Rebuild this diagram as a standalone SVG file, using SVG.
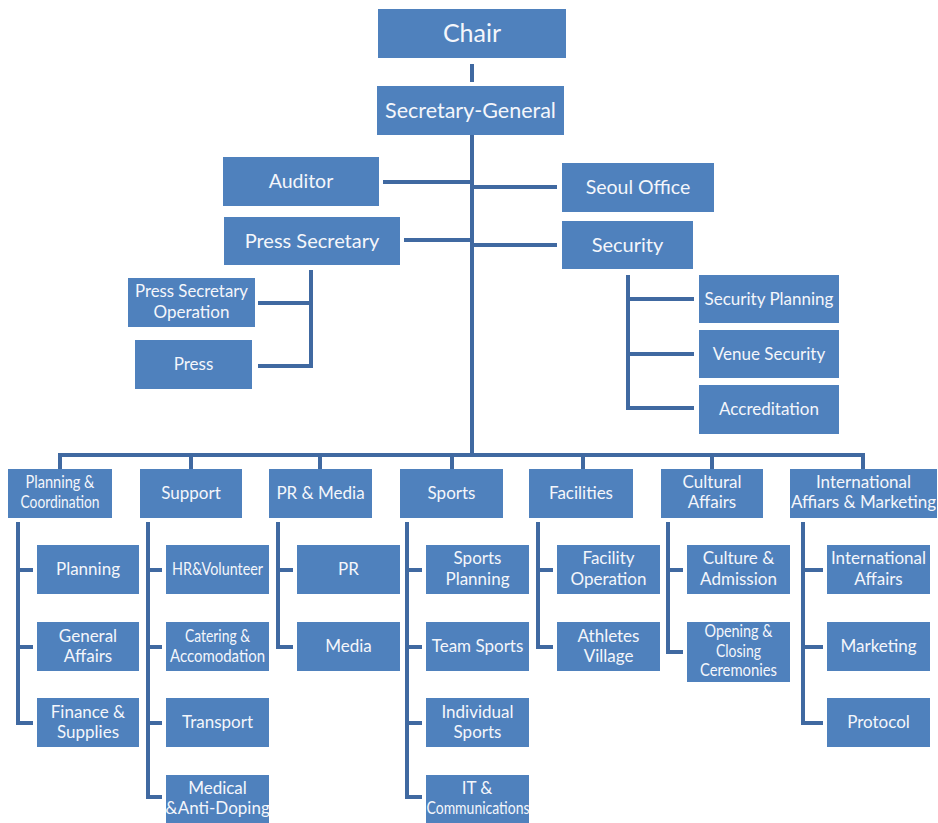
<svg xmlns="http://www.w3.org/2000/svg" width="938" height="823" viewBox="0 0 938 823">
<style>
.bx{fill:#4f81bd}
.t{font-family:Lato,"Open Sans","Liberation Sans",sans-serif;fill:#f4f6fb;text-anchor:middle;font-size:17px}
.ln{stroke:#4069a1;stroke-width:4;fill:none}
</style>
<rect width="938" height="823" fill="#ffffff"/>
<g id="connectors" class="ln">
<path d="M472,64 V82"/>
<path d="M472,135 V455"/>
<path d="M383,182 H472"/>
<path d="M472,187 H557"/>
<path d="M404,240 H472"/>
<path d="M472,245 H557"/>
<path d="M311,270 V366 H258 M258,303 H311"/>
<path d="M628,275 V408 H694 M628,299 H694 M628,354 H694"/>
<path d="M60,469 V455 H863 V469 M191,455 V469 M320,455 V469 M452,455 V469 M583,455 V469 M712,455 V469"/>
<path d="M18,522 V723 H33 M18,570 H33 M18,647 H33"/>
<path d="M148,522 V797 H162 M148,570 H162 M148,647 H162 M148,723 H162"/>
<path d="M278,522 V647 H293 M278,570 H293"/>
<path d="M407,522 V797 H422 M407,570 H422 M407,647 H422 M407,723 H422"/>
<path d="M538,522 V647 H553 M538,570 H553"/>
<path d="M668,522 V652 H683 M668,570 H683"/>
<path d="M803,522 V723 H823 M803,570 H823 M803,647 H823"/>
</g>
<g id="chair"><rect class="bx" x="378" y="9" width="188" height="49"/><text class="t" x="472" y="42" style="font-size:25px">Chair</text></g>
<g id="secretary-general"><rect class="bx" x="377" y="86" width="187" height="49"/><text class="t" x="470.5" y="118" style="font-size:21.5px">Secretary-General</text></g>
<g id="auditor"><rect class="bx" x="223" y="157" width="156" height="49"/><text class="t" x="301" y="188" style="font-size:19.5px">Auditor</text></g>
<g id="seoul-office"><rect class="bx" x="562" y="163" width="152" height="49"/><text class="t" x="638" y="194" style="font-size:19.5px">Seoul Office</text></g>
<g id="press-secretary"><rect class="bx" x="224" y="217" width="176" height="48"/><text class="t" x="312" y="248" style="font-size:20px">Press Secretary</text></g>
<g id="security"><rect class="bx" x="562" y="221" width="131" height="48"/><text class="t" x="627.5" y="252" style="font-size:20px">Security</text></g>
<g id="press-secretary-operation"><rect class="bx" x="128" y="278" width="127" height="49"/><text class="t" x="191.5" y="297" textLength="113" lengthAdjust="spacingAndGlyphs">Press Secretary</text><text class="t" x="191.5" y="318">Operation</text></g>
<g id="press"><rect class="bx" x="135" y="340" width="117" height="49"/><text class="t" x="193.5" y="370">Press</text></g>
<g id="security-planning"><rect class="bx" x="699" y="275" width="140" height="48"/><text class="t" x="769" y="305">Security Planning</text></g>
<g id="venue-security"><rect class="bx" x="699" y="330" width="140" height="48"/><text class="t" x="769" y="360">Venue Security</text></g>
<g id="accreditation"><rect class="bx" x="699" y="385" width="140" height="49"/><text class="t" x="769" y="415">Accreditation</text></g>
<g id="planning-coordination"><rect class="bx" x="8" y="469" width="104" height="49"/><text class="t" x="60" y="488" textLength="69" lengthAdjust="spacingAndGlyphs">Planning &amp;</text><text class="t" x="60" y="508" textLength="79" lengthAdjust="spacingAndGlyphs">Coordination</text></g>
<g id="support"><rect class="bx" x="140" y="469" width="102" height="49"/><text class="t" x="191" y="499">Support</text></g>
<g id="pr-media"><rect class="bx" x="269" y="469" width="103" height="49"/><text class="t" x="320.5" y="499">PR &amp; Media</text></g>
<g id="sports"><rect class="bx" x="400" y="469" width="103" height="49"/><text class="t" x="451.5" y="499">Sports</text></g>
<g id="facilities"><rect class="bx" x="529" y="469" width="104" height="49"/><text class="t" x="581" y="499">Facilities</text></g>
<g id="cultural-affairs"><rect class="bx" x="661" y="469" width="102" height="49"/><text class="t" x="712" y="488">Cultural</text><text class="t" x="712" y="508">Affairs</text></g>
<g id="international-affairs-marketing"><rect class="bx" x="790" y="469" width="147" height="49"/><text class="t" x="863.5" y="488">International</text><text class="t" x="863.5" y="508">Affiars &amp; Marketing</text></g>
<g id="planning"><rect class="bx" x="37" y="545" width="102" height="49"/><text class="t" x="88" y="575">Planning</text></g>
<g id="general-affairs"><rect class="bx" x="37" y="622" width="102" height="49"/><text class="t" x="88" y="642">General</text><text class="t" x="88" y="662">Affairs</text></g>
<g id="finance-supplies"><rect class="bx" x="37" y="698" width="102" height="49"/><text class="t" x="88" y="718">Finance &amp;</text><text class="t" x="88" y="738">Supplies</text></g>
<g id="hr-volunteer"><rect class="bx" x="166" y="545" width="103" height="49"/><text class="t" x="217.5" y="575" textLength="91" lengthAdjust="spacingAndGlyphs">HR&amp;Volunteer</text></g>
<g id="catering-accomodation"><rect class="bx" x="166" y="622" width="103" height="49"/><text class="t" x="217.5" y="642" textLength="65" lengthAdjust="spacingAndGlyphs">Catering &amp;</text><text class="t" x="217.5" y="662" textLength="95" lengthAdjust="spacingAndGlyphs">Accomodation</text></g>
<g id="transport"><rect class="bx" x="166" y="698" width="103" height="49"/><text class="t" x="217.5" y="728">Transport</text></g>
<g id="medical-anti-doping"><rect class="bx" x="166" y="775" width="103" height="48"/><text class="t" x="217.5" y="794">Medical</text><text class="t" x="217.5" y="814">&amp;Anti-Doping</text></g>
<g id="pr"><rect class="bx" x="297" y="545" width="103" height="49"/><text class="t" x="348.5" y="575">PR</text></g>
<g id="media"><rect class="bx" x="297" y="622" width="103" height="49"/><text class="t" x="348.5" y="652">Media</text></g>
<g id="sports-planning"><rect class="bx" x="426" y="545" width="103" height="49"/><text class="t" x="477.5" y="564">Sports</text><text class="t" x="477.5" y="585">Planning</text></g>
<g id="team-sports"><rect class="bx" x="426" y="622" width="103" height="49"/><text class="t" x="477.5" y="652">Team Sports</text></g>
<g id="individual-sports"><rect class="bx" x="426" y="698" width="103" height="49"/><text class="t" x="477.5" y="718">Individual</text><text class="t" x="477.5" y="738">Sports</text></g>
<g id="it-communications"><rect class="bx" x="426" y="775" width="103" height="48"/><text class="t" x="477" y="794">IT &amp;</text><text class="t" x="478" y="814" textLength="103" lengthAdjust="spacingAndGlyphs">Communications</text></g>
<g id="facility-operation"><rect class="bx" x="557" y="545" width="103" height="49"/><text class="t" x="608.5" y="564">Facility</text><text class="t" x="608.5" y="585">Operation</text></g>
<g id="athletes-village"><rect class="bx" x="557" y="622" width="103" height="49"/><text class="t" x="608.5" y="642">Athletes</text><text class="t" x="608.5" y="662">Village</text></g>
<g id="culture-admission"><rect class="bx" x="687" y="545" width="103" height="49"/><text class="t" x="738.5" y="564">Culture &amp;</text><text class="t" x="738.5" y="585">Admission</text></g>
<g id="opening-closing-ceremonies"><rect class="bx" x="687" y="622" width="103" height="60"/><text class="t" x="738.5" y="637" textLength="68" lengthAdjust="spacingAndGlyphs">Opening &amp;</text><text class="t" x="738.5" y="657" textLength="45" lengthAdjust="spacingAndGlyphs">Closing</text><text class="t" x="738.5" y="676" textLength="77" lengthAdjust="spacingAndGlyphs">Ceremonies</text></g>
<g id="international-affairs"><rect class="bx" x="827" y="545" width="103" height="49"/><text class="t" x="878.5" y="564">International</text><text class="t" x="878.5" y="585">Affairs</text></g>
<g id="marketing"><rect class="bx" x="827" y="622" width="103" height="49"/><text class="t" x="878.5" y="652">Marketing</text></g>
<g id="protocol"><rect class="bx" x="827" y="698" width="103" height="49"/><text class="t" x="878.5" y="728">Protocol</text></g>
</svg>
